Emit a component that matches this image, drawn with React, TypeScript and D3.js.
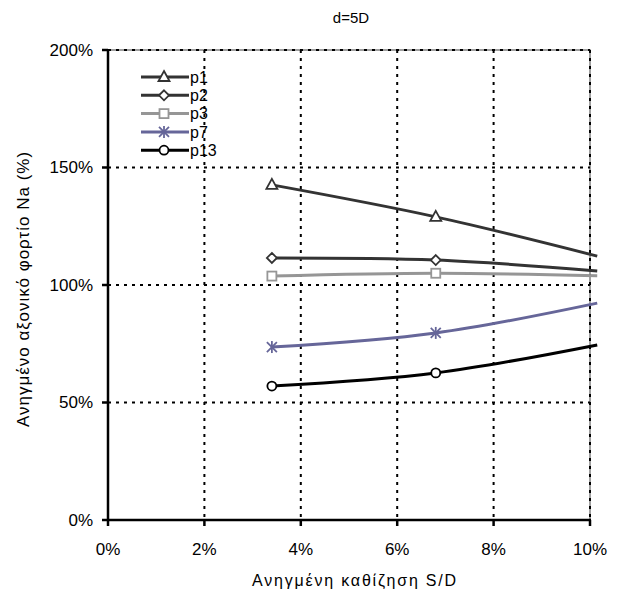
import React from "react";
import * as d3 from "d3";

const xValues = [3.4, 6.8, 10.15];
const seriesNames = ["p1", "p2", "p3", "p7", "p13"];
const p1 = [142.6, 129.0, 112.3];
const p2 = [111.5, 110.6, 106.0];
const p3 = [103.8, 105.0, 103.9];
const p7 = [73.6, 79.6, 92.3];
const p13 = [57.0, 62.6, 74.5];
const xTicks = [0, 2, 4, 6, 8, 10];
const yTicks = [0, 50, 100, 150, 200];

const W = 618, H = 598;
const L = 108, R = 590, T = 50, B = 520;

const styles: Record<string, { color: string; marker: string }> = {
  p1: { color: "#333333", marker: "triangle" },
  p2: { color: "#333333", marker: "diamond" },
  p3: { color: "#969696", marker: "square" },
  p7: { color: "#666699", marker: "star" },
  p13: { color: "#000000", marker: "circle" },
};

function Marker({ type, x, y, color }: { type: string; x: number; y: number; color: string }) {
  if (type === "triangle") {
    const s = 5;
    return <path d={`M${x},${y - s - 1}L${x + s + 0.5},${y + s - 1}L${x - s - 0.5},${y + s - 1}Z`} fill="#fff" stroke={color} strokeWidth={1.8} />;
  }
  if (type === "diamond") {
    const s = 5;
    return <path d={`M${x},${y - s}L${x + s},${y}L${x},${y + s}L${x - s},${y}Z`} fill="#fff" stroke={color} strokeWidth={1.8} />;
  }
  if (type === "square") {
    const s = 4.5;
    return <rect x={x - s} y={y - s} width={2 * s} height={2 * s} fill="#fff" stroke={color} strokeWidth={1.8} />;
  }
  if (type === "star") {
    const s = 5;
    return (
      <g stroke={color} strokeWidth={1.8}>
        <line x1={x - s} y1={y - s} x2={x + s} y2={y + s} />
        <line x1={x - s} y1={y + s} x2={x + s} y2={y - s} />
        <line x1={x} y1={y - s - 1} x2={x} y2={y + s + 1} />
      </g>
    );
  }
  return <circle cx={x} cy={y} r={4.5} fill="#fff" stroke={color} strokeWidth={1.8} />;
}

export default function App() {
  const x = d3.scaleLinear().domain([0, 10]).range([L, R]);
  const y = d3.scaleLinear().domain([0, 200]).range([B, T]);
  const data: Record<string, number[]> = { p1, p2, p3, p7, p13 };
  const line = d3
    .line<[number, number]>()
    .x((d) => x(d[0]))
    .y((d) => y(d[1]))
    .curve(d3.curveCatmullRom.alpha(0.5));
  const font = "'Liberation Sans', Arial, sans-serif";
  return (
    <svg width={W} height={H} style={{ position: "absolute", left: 0, top: 0, background: "#fff" }} fontFamily={font}>
      <rect x={0} y={0} width={W} height={H} fill="#fff" />
      <rect x={L} y={T} width={R - L} height={B - T} fill="none" stroke="#808080" strokeWidth={1.5} />
      {yTicks.filter((t) => t > 0).map((t) => (
        <line key={"gy" + t} x1={L} x2={R} y1={y(t)} y2={y(t)} stroke="#000" strokeWidth={2} strokeDasharray="3,5" />
      ))}
      {xTicks.filter((t) => t > 0).map((t) => (
        <line key={"gx" + t} x1={x(t)} x2={x(t)} y1={T} y2={B} stroke="#000" strokeWidth={2} strokeDasharray="3,5" />
      ))}
      <line x1={L} x2={L} y1={T - 1} y2={B + 1} stroke="#000" strokeWidth={2.5} />
      <line x1={L - 1} x2={R + 1} y1={B} y2={B} stroke="#000" strokeWidth={2.5} />
      {yTicks.map((t) => (
        <g key={"ty" + t}>
          <line x1={L - 6} x2={L} y1={y(t)} y2={y(t)} stroke="#000" strokeWidth={2.5} />
          <text x={L - 15} y={y(t)} dy="0.35em" textAnchor="end" fontSize={17}>{t + "%"}</text>
        </g>
      ))}
      {xTicks.map((t) => (
        <g key={"tx" + t}>
          <line x1={x(t)} x2={x(t)} y1={B} y2={B + 6} stroke="#000" strokeWidth={2.5} />
          <text x={x(t)} y={B + 29} dy="0.35em" textAnchor="middle" fontSize={17}>{t + "%"}</text>
        </g>
      ))}
      {seriesNames.map((n) => {
        const st = styles[n];
        const pts: [number, number][] = xValues.map((xv, i) => [xv, data[n][i]]);
        return (
          <g key={n}>
            <path d={line(pts) || ""} fill="none" stroke={st.color} strokeWidth={3} />
            {pts.filter((p) => p[0] <= 10).map((p, i) => (
              <Marker key={i} type={st.marker} x={x(p[0])} y={y(p[1])} color={st.color} />
            ))}
          </g>
        );
      })}
      {seriesNames.map((n, i) => {
        const st = styles[n];
        const ly = 77 + i * 18.3;
        return (
          <g key={"lg" + n}>
            <line x1={141} x2={189} y1={ly} y2={ly} stroke={st.color} strokeWidth={3} />
            <Marker type={st.marker} x={164} y={ly} color={st.color} />
            <text x={190} y={ly} dy="0.35em" fontSize={16}>{n}</text>
          </g>
        );
      })}
      <text x={351} y={18} dy="0.35em" textAnchor="middle" fontSize={15}>d=5D</text>
      <text x={355} y={580} dy="0.35em" textAnchor="middle" fontSize={16} letterSpacing={1.8}>Ανηγμένη καθίζηση S/D</text>
      <text transform={`translate(23,289) rotate(-90)`} dy="0.35em" textAnchor="middle" fontSize={17} letterSpacing={1}>Ανηγμένο αξονικό φορτίο Na (%)</text>
    </svg>
  );
}
